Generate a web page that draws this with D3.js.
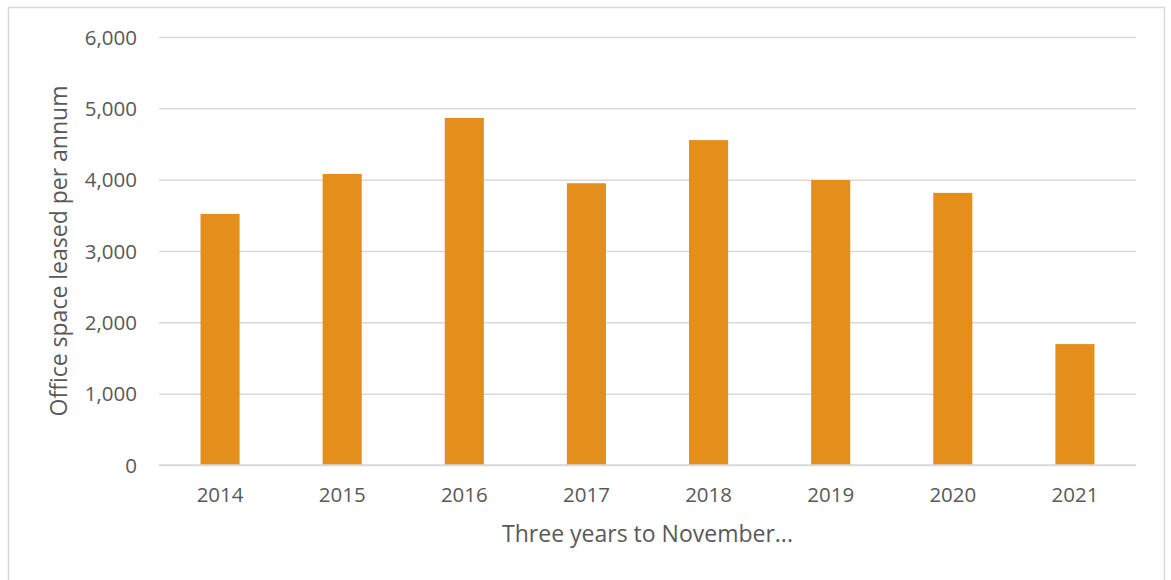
<!DOCTYPE html>
<head>
  <meta charset="utf-8">
  <title>Office space leased</title>
  <script src="https://d3js.org/d3.v7.min.js"></script>
  <style>
    body { margin: 0px; background: white; }
    text { font-family: "Open Sans", sans-serif; fill: #595959; }
    .axis text { font-size: 20.5px; }
    .axis path { display: none; }
    .axis line { stroke: #d9d9d9; stroke-width: 1.5; }
    .title { font-size: 23px; }
  </style>
</head>
<body>
  <svg width="1171" height="580"></svg>
  <script>
    // data
    var years = ["2014", "2015", "2016", "2017", "2018", "2019", "2020", "2021"];
    var leased = [3520, 4080, 4865, 3950, 4555, 3995, 3815, 1695];
    var yTicks = [0, 1000, 2000, 3000, 4000, 5000, 6000];

    var svg = d3.select("svg");
    var margin = { "top": 37, "bottom": 115, "left": 159, "right": 35 };
    var plot = {
      "width": svg.attr("width") - margin.left - margin.right,
      "height": svg.attr("height") - margin.top - margin.bottom
    };

    // outer frame (bottom edge runs off the picture)
    svg.append("rect")
      .attr("x", 8.5).attr("y", 7.5)
      .attr("width", 1156).attr("height", 600)
      .attr("fill", "none")
      .attr("stroke", "#d9d9d9")
      .attr("stroke-width", 1.5);

    var g = svg.append("g").attr("transform", translate(margin.left, margin.top));

    var x = d3.scaleBand().domain(years).range([0, plot.width]).paddingInner(0.68).paddingOuter(0.34);
    var y = d3.scaleLinear().domain([0, 6000]).range([plot.height, 0]);

    // gridlines + y labels
    var yAxis = g.append("g").attr("class", "axis")
      .call(d3.axisLeft(y).tickValues(yTicks).tickSize(-plot.width).tickPadding(22).tickFormat(d3.format(",")));
    yAxis.selectAll("text").attr("dy", "0.35em");

    g.selectAll(".bar")
      .data(leased)
      .enter()
      .append("rect")
      .attr("class", "bar")
      .attr("x", function(d, i) { return x(years[i]); })
      .attr("y", function(d) { return y(d); })
      .attr("width", x.bandwidth())
      .attr("height", function(d) { return plot.height - y(d); })
      .attr("fill", "#e48f1c");

    // x axis labels
    var xAxis = g.append("g").attr("class", "axis")
      .attr("transform", translate(0, plot.height))
      .call(d3.axisBottom(x).tickSize(0).tickPadding(22));
    xAxis.append("line").attr("x1", 0).attr("x2", plot.width).attr("y1", 0).attr("y2", 0);

    g.append("text")
      .attr("class", "title")
      .attr("x", plot.width / 2)
      .attr("y", plot.height + 77)
      .attr("text-anchor", "middle")
      .text("Three years to November...");

    g.append("text")
      .attr("class", "title")
      .attr("transform", translate(-100, plot.height / 2) + " rotate(-90)")
      .attr("text-anchor", "middle")
      .attr("dy", "0.35em")
      .text("Office space leased per annum");

    function translate(x, y) {
      return "translate(" + String(x) + "," + String(y) + ")";
    }
  </script>
</body>
</html>
